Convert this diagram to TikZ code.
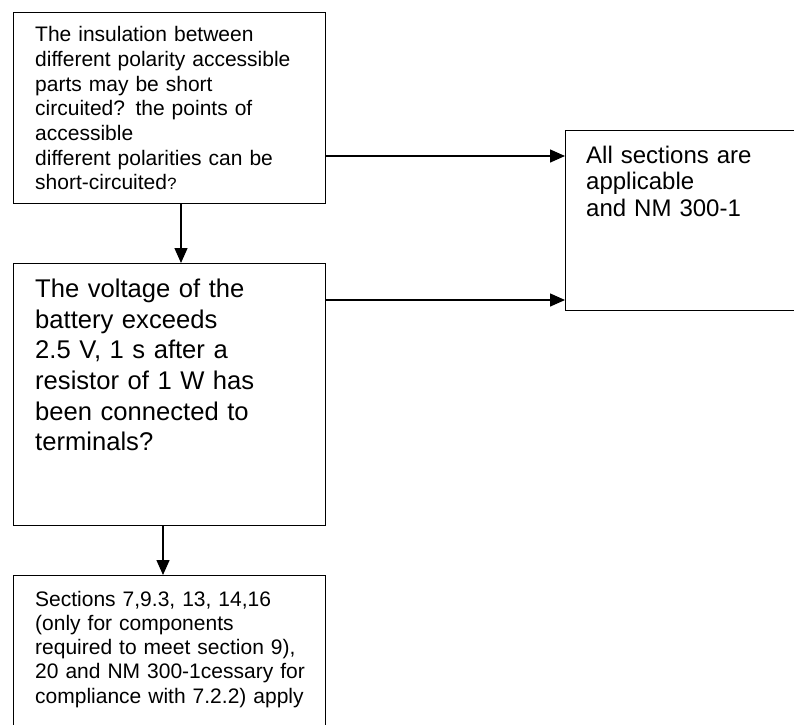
\documentclass[tikz,border=0pt]{standalone}
\usepackage{fontspec}
\setmainfont{Liberation Sans}
\newfontfamily\monoq{Liberation Mono}
\usetikzlibrary{arrows.meta}
\begin{document}
\begin{tikzpicture}[x=1pt,y=-1pt,
  box/.style={draw, line width=1.4pt, inner sep=0pt, anchor=north west},
  txt/.style={anchor=base west, inner sep=0pt, align=left, text width=#1},
  arr/.style={line width=1.4pt, -{Triangle[length=15pt,width=13pt]}}]
\useasboundingbox (0,0) rectangle (794,724);
\clip (0,0) rectangle (794,724);
% boxes
\node[box, minimum width=312pt, minimum height=191pt] (b1) at (13,12) {};
\node[box, minimum width=312pt, minimum height=262pt] (b2) at (13,263) {};
\node[box, minimum width=312pt, minimum height=200pt] (b3) at (13,575) {};
\node[box, minimum width=250pt, minimum height=180pt] (b4) at (565,130) {};
% texts
\node[txt=285pt, font=\fontsize{21}{24.7}\selectfont] (t1) at (35,41.7)
  {The insulation between\\different polarity accessible\\parts may be short\\circuited? the points of\\accessible\\different polarities can be\\short-circuited{\monoq\fontsize{17}{24.7}\selectfont ?}};
\node[txt=285pt, font=\fontsize{25.6}{30.7}\selectfont] (t2) at (35,297.3)
  {The voltage of the\\battery exceeds\\2.5 V, 1 s after a\\resistor of 1 W has\\been connected to\\terminals?};
\node[txt=285pt, font=\fontsize{21}{24.3}\selectfont] (t3) at (35,606)
  {Sections 7,9.3, 13, 14,16\\(only for components\\required to meet section 9),\\20 and NM 300-1cessary for\\compliance with 7.2.2) apply};
\node[txt=200pt, font=\fontsize{24}{26.7}\selectfont] (t4) at (586,163)
  {All sections are\\applicable\\and NM 300-1};
% connectors
\draw[arr] (b1.east |- 0,156) -- (b4.west |- 0,156);
\draw[arr] (b2.east |- 0,300) -- (b4.west |- 0,300);
\draw[arr] (181,0 |- b1.south) -- (181,0 |- b2.north);
\draw[arr] (163,0 |- b2.south) -- (163,0 |- b3.north);
\end{tikzpicture}
\end{document}
